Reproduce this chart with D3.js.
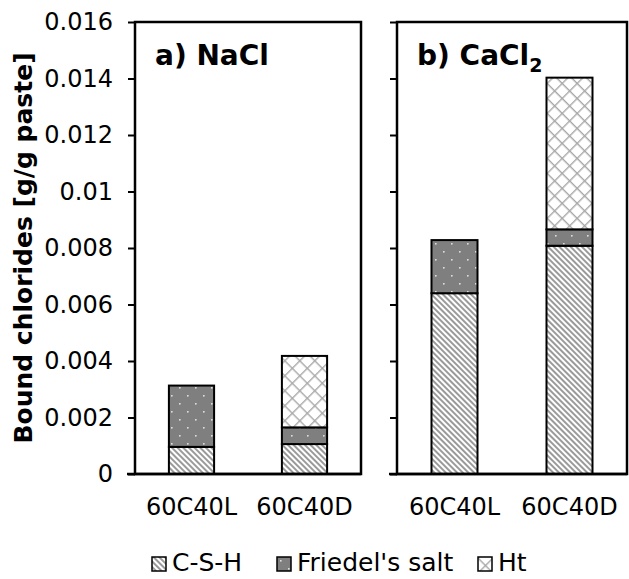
<!DOCTYPE html>
<html>
<head>
<meta charset="utf-8">
<script src="https://cdn.jsdelivr.net/npm/d3@7"></script>
<style>
	body { margin: 0; background: #fff; }
	text { font-family: "DejaVu Sans", Verdana, sans-serif; fill: #000; }
</style>
</head>
<body>
<script>
var categories = ["60C40L", "60C40D"];
var seriesKeys = ["C-S-H", "Friedel's salt", "Ht"];

// panel a) NaCl
var cshNaCl = [0.00096, 0.00106];
var friedelNaCl = [0.00217, 0.00059];
var htNaCl = [0, 0.00253];

// panel b) CaCl2
var cshCaCl2 = [0.00640, 0.00808];
var friedelCaCl2 = [0.00188, 0.00058];
var htCaCl2 = [0, 0.00537];

var yTicks = [0, 0.002, 0.004, 0.006, 0.008, 0.01, 0.012, 0.014, 0.016];

var width = 629, height = 579;
var top0 = 22, bottom0 = 474;

var svg = d3.select("body").append("svg")
	.attr("width", width)
	.attr("height", height);

/*************************************************/
// fill patterns
var defs = svg.append("defs");

var pCsh = defs.append("pattern").attr("id", "p-csh")
	.attr("patternUnits", "userSpaceOnUse")
	.attr("width", 4).attr("height", 4)
	.attr("patternTransform", "rotate(-45)");
pCsh.append("rect").attr("width", 4).attr("height", 4).attr("fill", "#fff");
pCsh.append("rect").attr("width", 2).attr("height", 4).attr("fill", "#9a9a9a");

var pFr = defs.append("pattern").attr("id", "p-fr")
	.attr("patternUnits", "userSpaceOnUse")
	.attr("width", 16).attr("height", 16);
pFr.append("rect").attr("width", 16).attr("height", 16).attr("fill", "#7f7f7f");
pFr.append("rect").attr("x", 3).attr("y", 3).attr("width", 1.6).attr("height", 1.6).attr("fill", "#e0e0e0");
pFr.append("rect").attr("x", 11).attr("y", 11).attr("width", 1.6).attr("height", 1.6).attr("fill", "#e0e0e0");

var pHt = defs.append("pattern").attr("id", "p-ht")
	.attr("patternUnits", "userSpaceOnUse")
	.attr("width", 10.6).attr("height", 10.6)
	.attr("patternTransform", "rotate(45)");
pHt.append("rect").attr("width", 10.6).attr("height", 10.6).attr("fill", "#fff");
pHt.append("rect").attr("width", 10.6).attr("height", 1.4).attr("fill", "#a8a8a8");
pHt.append("rect").attr("width", 1.4).attr("height", 10.6).attr("fill", "#a8a8a8");

var fills = { "C-S-H": "url(#p-csh)", "Friedel's salt": "url(#p-fr)", "Ht": "url(#p-ht)" };

/*************************************************/
var y = d3.scaleLinear().domain([0, 0.016]).range([bottom0, top0]);

function rows(csh, fr, ht) {
	return categories.map(function (c, i) {
		return { cat: c, "C-S-H": csh[i], "Friedel's salt": fr[i], "Ht": ht[i] };
	});
}

var panels = [
	{ x0: 135, x1: 361, data: rows(cshNaCl, friedelNaCl, htNaCl), title: "a) NaCl", sub: null, labels: true },
	{ x0: 397, x1: 627, data: rows(cshCaCl2, friedelCaCl2, htCaCl2), title: "b) CaCl", sub: "2", labels: false }
];

var stack = d3.stack().keys(seriesKeys);

panels.forEach(function (p) {
	var x = d3.scaleBand().domain(categories).range([p.x0, p.x1]).paddingInner(0.6).paddingOuter(0.3);
	var g = svg.append("g");

	var layers = stack(p.data);
	g.selectAll(".layer")
		.data(layers)
		.enter().append("g")
		.attr("class", "layer")
		.attr("fill", function (d) { return fills[d.key] })
		.selectAll("rect")
		.data(function (d) { return d.filter(function (s) { return s[1] - s[0] > 0 }) })
		.enter().append("rect")
		.attr("x", function (d) { return x(d.data.cat) })
		.attr("width", x.bandwidth())
		.attr("y", function (d) { return y(d[1]) })
		.attr("height", function (d) { return y(d[0]) - y(d[1]) })
		.attr("stroke", "#000")
		.attr("stroke-width", 2);

	// y axis with ticks
	var yAxis = d3.axisLeft(y).tickValues(yTicks).tickSize(7).tickPadding(15)
		.tickFormat(function (d) { return p.labels ? String(+d.toFixed(3)) : "" });
	var ya = svg.append("g").attr("transform", "translate(" + p.x0 + ",0)").call(yAxis);
	ya.select(".domain").remove();
	ya.selectAll("line").attr("stroke", "#000").attr("stroke-width", 2);
	ya.selectAll("text").style("font-size", "24px").style("font-family", "DejaVu Sans");

	// frame
	svg.append("rect")
		.attr("x", p.x0).attr("y", top0)
		.attr("width", p.x1 - p.x0).attr("height", bottom0 - top0)
		.attr("fill", "none").attr("stroke", "#000").attr("stroke-width", 2.5);
	svg.append("line")
		.attr("x1", p.x0 - 8).attr("x2", p.x1)
		.attr("y1", bottom0).attr("y2", bottom0)
		.attr("stroke", "#000").attr("stroke-width", 2.5);

	// x labels
	svg.selectAll(null)
		.data(categories)
		.enter().append("text")
		.attr("x", function (d) { return x(d) + x.bandwidth() / 2 })
		.attr("y", 515)
		.attr("text-anchor", "middle")
		.style("font-size", "24px")
		.text(function (d) { return d });

	// panel title
	var t = svg.append("text")
		.attr("x", p.x0 + 20).attr("y", 65)
		.style("font-size", "28px").style("font-weight", "bold")
		.text(p.title);
	if (p.sub) {
		t.append("tspan").attr("dy", 7).style("font-size", "19px").text(p.sub);
	}
});

// y title
svg.append("text")
	.attr("transform", "translate(32," + ((top0 + bottom0) / 2) + ") rotate(-90)")
	.attr("text-anchor", "middle")
	.style("font-size", "25px").style("font-weight", "bold")
	.text("Bound chlorides [g/g paste]");

/*************************************************/
// legend
var legendX = [152, 277, 478];
var lg = svg.selectAll(".leg")
	.data(seriesKeys)
	.enter().append("g")
	.attr("class", "leg")
	.attr("transform", function (d, i) { return "translate(" + legendX[i] + ",557)" });
lg.append("rect")
	.attr("width", 14).attr("height", 14)
	.attr("fill", function (d) { return fills[d] })
	.attr("stroke", "#000").attr("stroke-width", 1.5);
lg.append("text")
	.attr("x", 20).attr("y", 14)
	.style("font-size", "25px")
	.text(function (d) { return d });
</script>
</body>
</html>
